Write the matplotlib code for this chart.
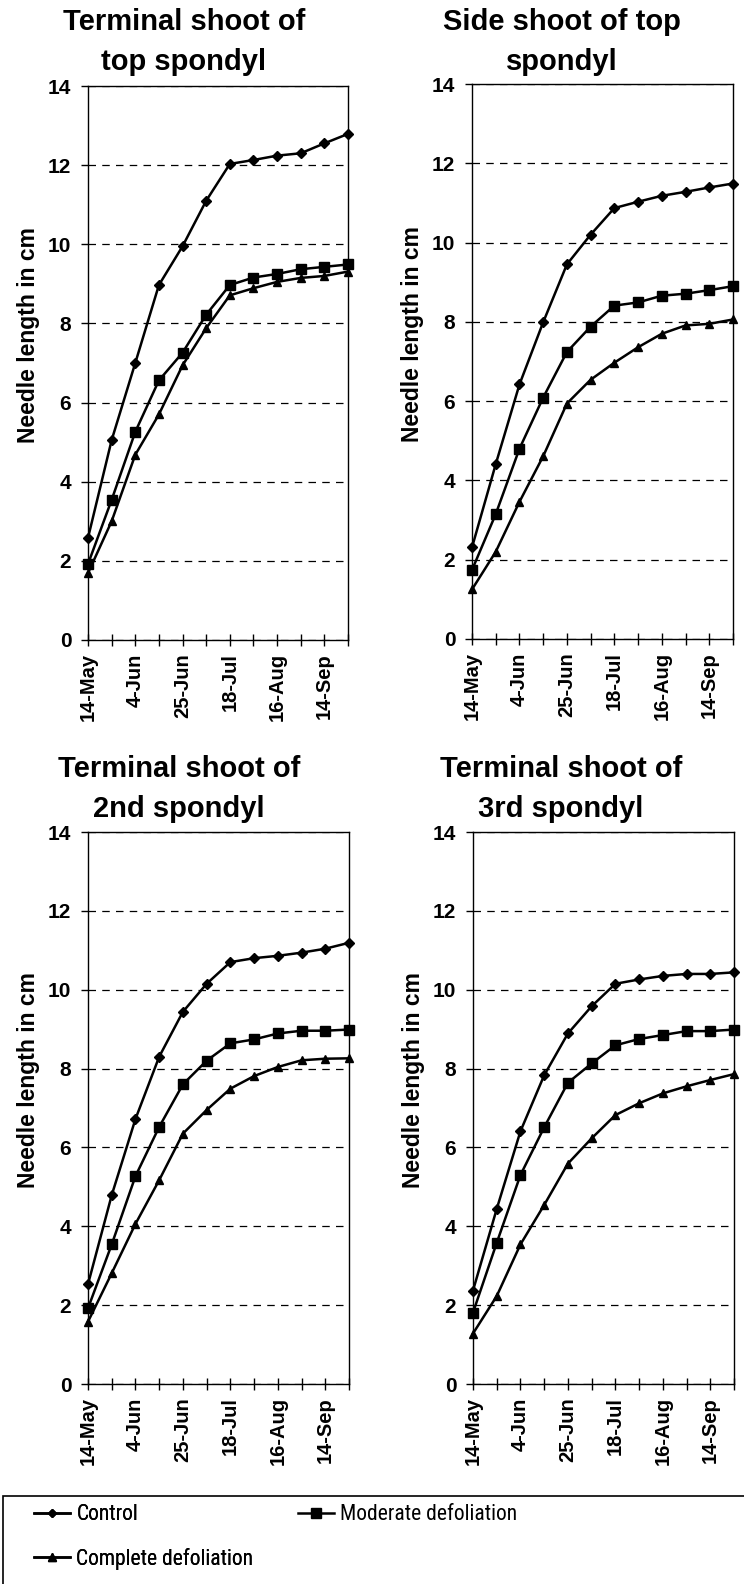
import matplotlib
matplotlib.use("Agg")
import matplotlib.pyplot as plt
from matplotlib import font_manager
from matplotlib.patches import Rectangle
from matplotlib.lines import Line2D

# dates on the category axis (only every other one is labelled)
dates = ["14-May", "", "4-Jun", "", "25-Jun", "", "18-Jul", "", "16-Aug", "", "14-Sep", ""]

titles = ["Terminal shoot of\ntop spondyl",
          "Side shoot of top\nspondyl",
          "Terminal shoot of\n2nd spondyl",
          "Terminal shoot of\n3rd spondyl"]

# needle length in cm, one list per treatment and panel
control_1 = [2.58, 5.05, 7.00, 8.97, 9.95, 11.10, 12.03, 12.13, 12.24, 12.30, 12.55, 12.79]
moderate_1 = [1.92, 3.54, 5.26, 6.56, 7.26, 8.22, 8.97, 9.16, 9.25, 9.37, 9.43, 9.49]
complete_1 = [1.69, 3.00, 4.68, 5.70, 6.94, 7.88, 8.71, 8.89, 9.05, 9.15, 9.20, 9.31]

control_2 = [2.31, 4.41, 6.42, 7.99, 9.45, 10.20, 10.87, 11.03, 11.18, 11.28, 11.39, 11.49]
moderate_2 = [1.74, 3.15, 4.80, 6.09, 7.24, 7.88, 8.41, 8.49, 8.66, 8.71, 8.80, 8.90]
complete_2 = [1.25, 2.20, 3.46, 4.61, 5.94, 6.54, 6.97, 7.36, 7.70, 7.91, 7.95, 8.06]

control_3 = [2.53, 4.79, 6.72, 8.30, 9.44, 10.15, 10.70, 10.80, 10.86, 10.94, 11.04, 11.19]
moderate_3 = [1.92, 3.54, 5.27, 6.52, 7.60, 8.20, 8.64, 8.74, 8.89, 8.96, 8.96, 8.99]
complete_3 = [1.58, 2.81, 4.06, 5.17, 6.35, 6.95, 7.49, 7.81, 8.04, 8.21, 8.25, 8.26]

control_4 = [2.37, 4.44, 6.41, 7.83, 8.89, 9.58, 10.15, 10.26, 10.35, 10.40, 10.40, 10.44]
moderate_4 = [1.81, 3.58, 5.30, 6.51, 7.64, 8.13, 8.59, 8.75, 8.85, 8.95, 8.95, 8.99]
complete_4 = [1.28, 2.23, 3.54, 4.54, 5.59, 6.23, 6.82, 7.12, 7.37, 7.55, 7.71, 7.86]

panels = [(control_1, moderate_1, complete_1),
          (control_2, moderate_2, complete_2),
          (control_3, moderate_3, complete_3),
          (control_4, moderate_4, complete_4)]

plt.rcParams['font.family'] = ['Liberation Sans', 'DejaVu Sans']

# narrow face for the legend if there is one
legend_family = 'Liberation Sans'
legend_size = 15
for fam in ['Liberation Sans Narrow', 'Arial Narrow', 'Roboto Condensed',
            'Noto Sans Condensed', 'Open Sans Condensed', 'DejaVu Sans Condensed']:
    try:
        font_manager.findfont(fam, fallback_to_default=False)
        legend_family = fam
        legend_size = 15.5
        break
    except ValueError:
        pass

W, H = 744, 1584
fig = plt.figure(figsize=(W / 100, H / 100), dpi=100)

# axes boxes in pixels: left, top, right, bottom
boxes = [(88, 86, 348, 640), (472, 84, 733, 639),
         (88, 832, 349, 1384), (473, 832, 734, 1384)]
# title centre x and baseline of first line
title_pos = [(184, 30), (562, 30), (179, 777), (561, 777)]

x = list(range(len(dates)))
for (l, t, r, b), (c, m, k), title, (tx, ty) in zip(boxes, panels, titles, title_pos):
    ax = fig.add_axes([l / W, 1 - b / H, (r - l) / W, (b - t) / H])
    ax.plot(x, c, '-', color='black', lw=1.8, marker='D', ms=5, clip_on=False, zorder=3)
    ax.plot(x, m, '-', color='black', lw=1.8, marker='s', ms=7.5, clip_on=False, zorder=3)
    ax.plot(x, k, '-', color='black', lw=1.8, marker='^', ms=6, clip_on=False, zorder=3)

    ax.set_xlim(0, 11)
    ax.set_ylim(0, 14)
    ax.set_yticks(range(0, 15, 2))
    ax.set_xticks(x)
    ax.set_xticklabels(dates, rotation=90, fontsize=14.5, fontweight='bold')
    ax.tick_params(axis='x', direction='inout', length=9, width=1, pad=5)
    ax.tick_params(axis='y', direction='out', length=5, width=1, pad=7, labelsize=15)
    for lab in ax.get_yticklabels():
        lab.set_fontweight('bold')
    for s in ax.spines.values():
        s.set_linewidth(1.0)
    ax.yaxis.grid(True, color='black', lw=0.9, linestyle=(0, (6, 5)))
    ax.set_axisbelow(True)
    ax.set_ylabel("Needle length in cm", fontsize=16.5, fontweight='bold')
    ax.yaxis.set_label_coords(-0.185, 0.55)

    line1, line2 = title.split("\n")
    fig.text(tx / W, 1 - ty / H, line1, ha='center', va='baseline',
             fontsize=21, fontweight='bold')
    fig.text(tx / W, 1 - (ty + 40) / H, line2, ha='center', va='baseline',
             fontsize=21, fontweight='bold')

# legend box running off the bottom/right of the page
fig.add_artist(Rectangle((3 / W, -0.01), 1.0, (H - 1496) / H + 0.01,
                         transform=fig.transFigure, fill=False,
                         edgecolor='black', lw=1.2))

h_c = Line2D([], [], color='black', lw=1.8, marker='D', ms=4.5)
h_m = Line2D([], [], color='black', lw=1.8, marker='s', ms=7)
h_k = Line2D([], [], color='black', lw=1.8, marker='^', ms=6)
leg_prop = {'family': [legend_family, 'DejaVu Sans'], 'size': legend_size}
leg1 = fig.legend([h_c, h_k], ["Control", "Complete defoliation"],
                  loc='upper left', bbox_to_anchor=(15 / W, 1 - 1485 / H),
                  frameon=False, handlelength=1.65, handletextpad=0.3,
                  labelspacing=1.05, prop=leg_prop)
fig.add_artist(leg1)
fig.legend([h_m], ["Moderate defoliation"],
           loc='upper left', bbox_to_anchor=(279 / W, 1 - 1485 / H),
           frameon=False, handlelength=1.65, handletextpad=0.3, prop=leg_prop)

fig.savefig("out.png", dpi=100)
